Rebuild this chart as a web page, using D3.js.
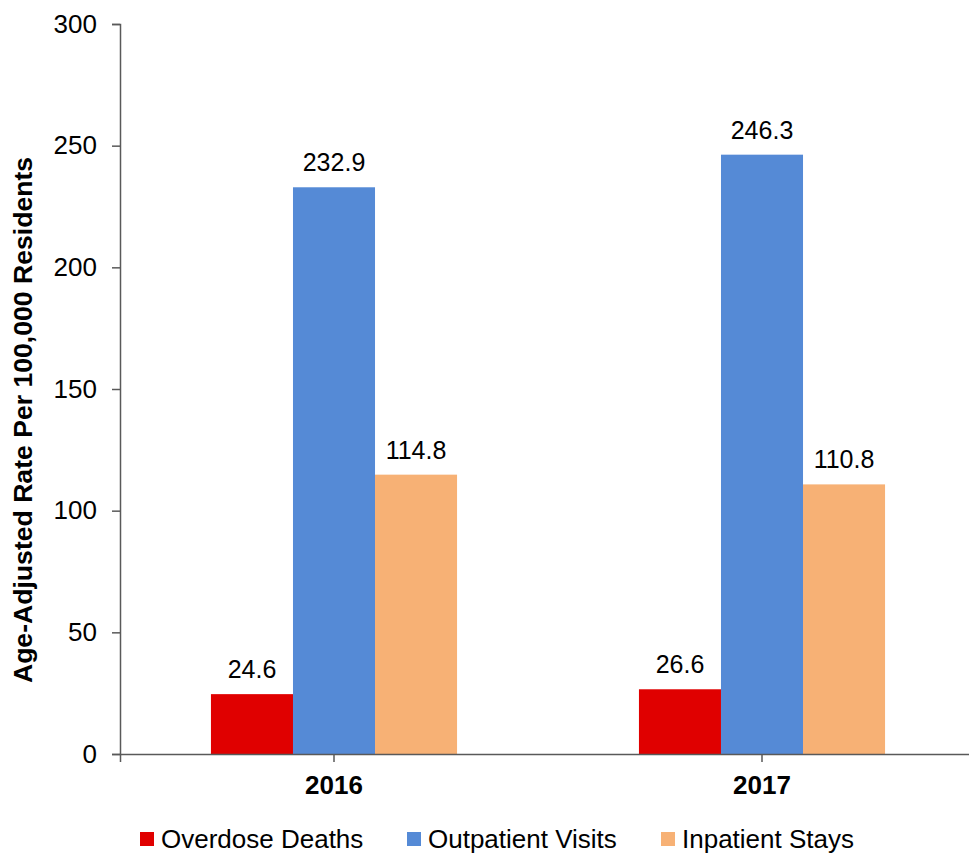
<!DOCTYPE html>
<html>
<head>
<meta charset="utf-8">
<script src="https://cdn.jsdelivr.net/npm/d3@7"></script>
<style>
  body { margin: 0; background: #fff; }
  text { font-family: "Liberation Sans", Arial, sans-serif; fill: #000; }
</style>
</head>
<body>
<div id="chart"></div>
<script>
var svgWidth = 969;
var svgHeight = 854;

// data
var years = ["2016", "2017"];
var seriesNames = ["Overdose Deaths", "Outpatient Visits", "Inpatient Stays"];
var overdoseDeaths = [24.6, 26.6];
var outpatientVisits = [232.9, 246.3];
var inpatientStays = [114.8, 110.8];
var yTicks = [0, 50, 100, 150, 200, 250, 300];
var colors = ["#e00000", "#558ad6", "#f7b175"];

var seriesValues = [overdoseDeaths, outpatientVisits, inpatientStays];

var margin = { top: 24, right: 0, bottom: 100, left: 120 };
var height = svgHeight - margin.top - margin.bottom; // 730

var svg = d3.select("#chart")
  .append("svg")
  .attr("width", svgWidth)
  .attr("height", svgHeight);

var chartGroup = svg.append("g")
  .attr("transform", `translate(${margin.left}, ${margin.top})`);

// scales
var x0 = d3.scaleBand()
  .domain(years)
  .range([0, 856])
  .paddingInner(0)
  .paddingOuter(0);

var x1 = d3.scaleBand()
  .domain(seriesNames)
  .range([x0.bandwidth() * 0.2125, x0.bandwidth() * 0.7875]);

var y = d3.scaleLinear()
  .domain([0, 300])
  .range([height, 0]);

// y axis
var yAxis = chartGroup.append("g")
  .call(d3.axisLeft(y).tickValues(yTicks).tickSize(8).tickPadding(15));
yAxis.select(".domain").attr("stroke", "#595959").attr("stroke-width", 1.5);
yAxis.selectAll(".tick line").attr("stroke", "#595959").attr("stroke-width", 1.5);
yAxis.selectAll(".tick text")
  .style("font-size", "26px")
  .attr("fill", "#000")
  .style("font-family", "Liberation Sans, Arial, sans-serif");

// bars
var groups = chartGroup.selectAll(".year")
  .data(years)
  .enter()
  .append("g")
  .attr("class", "year")
  .attr("transform", d => `translate(${x0(d)}, 0)`);

groups.selectAll("rect")
  .data((d, i) => seriesNames.map((s, j) => ({ series: s, value: seriesValues[j][i], idx: j })))
  .enter()
  .append("rect")
  .attr("x", d => x1(d.series))
  .attr("y", d => y(d.value))
  .attr("width", x1.bandwidth())
  .attr("height", d => height - y(d.value))
  .attr("fill", d => colors[d.idx]);

groups.selectAll(".val")
  .data((d, i) => seriesNames.map((s, j) => ({ series: s, value: seriesValues[j][i] })))
  .enter()
  .append("text")
  .attr("class", "val")
  .attr("x", d => x1(d.series) + x1.bandwidth() / 2)
  .attr("y", d => y(d.value) - 16)
  .attr("text-anchor", "middle")
  .style("font-size", "25px")
  .text(d => d.value.toFixed(1));

// x axis
var xAxis = chartGroup.append("g")
  .attr("transform", `translate(0, ${height})`)
  .call(d3.axisBottom(x0).tickSize(8).tickPadding(14));
xAxis.select(".domain").attr("stroke", "#595959").attr("stroke-width", 1.5);
xAxis.selectAll(".tick line").attr("stroke", "#595959").attr("stroke-width", 1.5);
xAxis.selectAll(".tick text")
  .style("font-size", "26px")
  .style("font-weight", "bold")
  .attr("fill", "#000")
  .style("font-family", "Liberation Sans, Arial, sans-serif");

// y axis title
svg.append("text")
  .attr("transform", "rotate(-90)")
  .attr("x", -420)
  .attr("y", 32)
  .attr("text-anchor", "middle")
  .style("font-size", "26.6px")
  .style("font-weight", "bold")
  .text("Age-Adjusted Rate Per 100,000 Residents");

// legend
var legendX = [140, 407, 661];
var legend = svg.append("g");
seriesNames.forEach(function(name, i) {
  var item = legend.append("g")
    .attr("transform", `translate(${legendX[i]}, 832)`);
  item.append("rect")
    .attr("width", 14)
    .attr("height", 14)
    .attr("fill", colors[i]);
  item.append("text")
    .attr("x", 21)
    .attr("y", 15.5)
    .style("font-size", "26px")
    .text(name);
});
</script>
</body>
</html>
